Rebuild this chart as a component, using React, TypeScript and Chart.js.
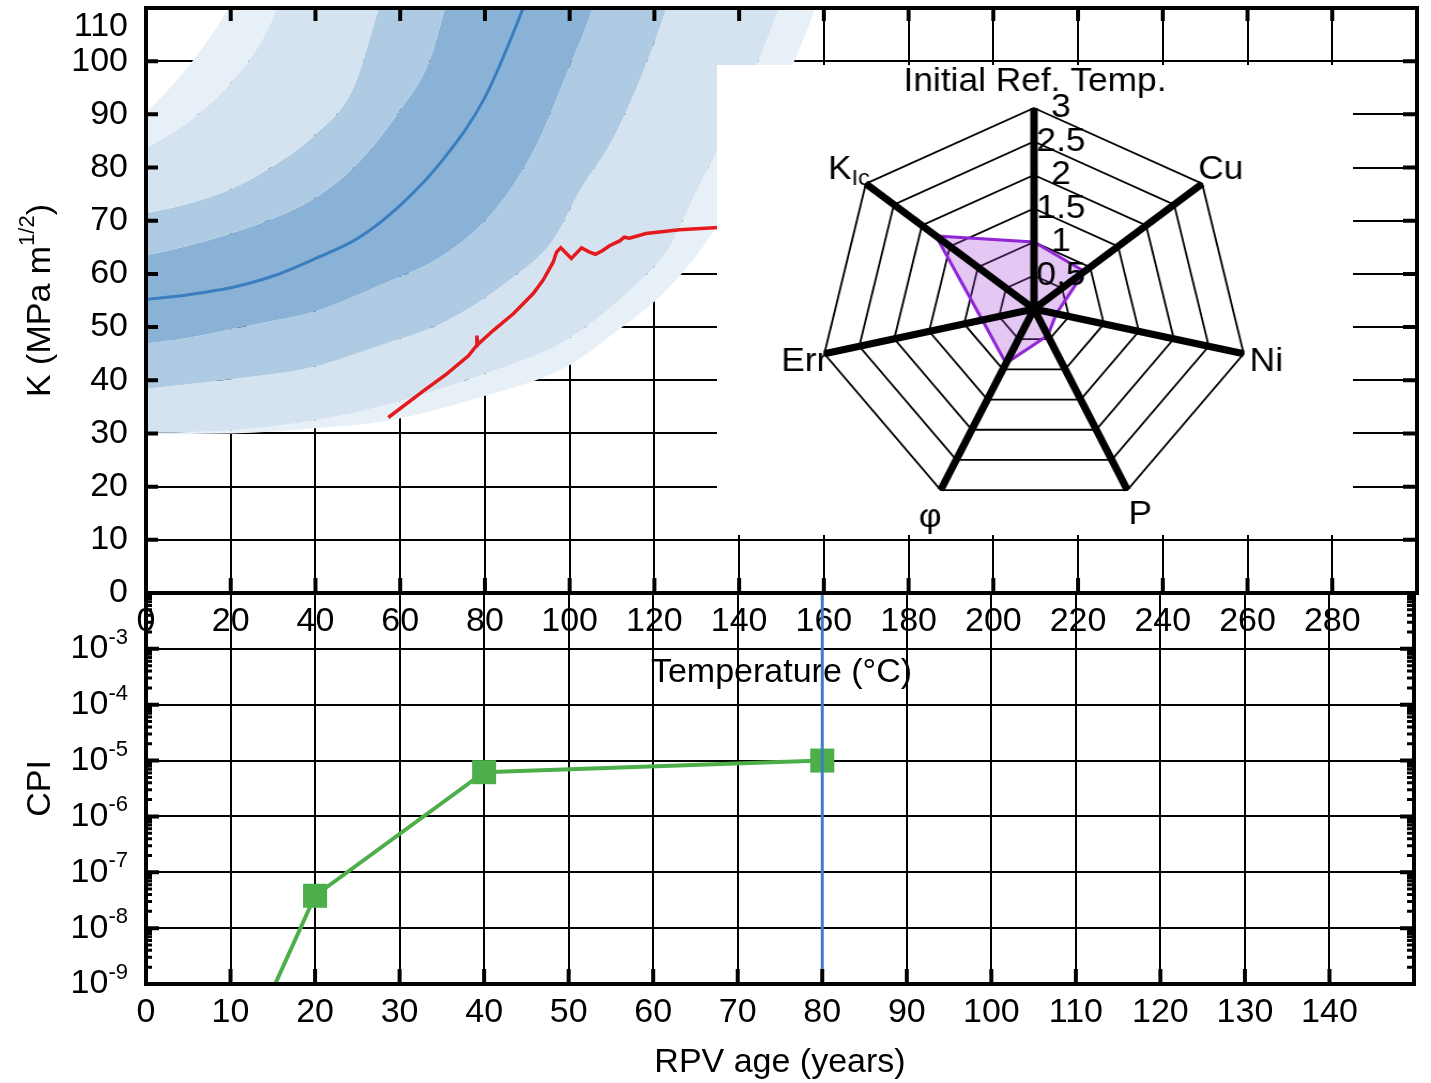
import React, { useEffect, useRef } from "react";
import { Chart, registerables } from "chart.js";

Chart.register(...registerables);

const FONT = '"Liberation Sans", Arial, Helvetica, sans-serif';
const TICK_PX = 34;
const TITLE_PX = 34;
const SUP_PX = 22;
const RADAR_PX = 33;
const RADAR_SX = 1.07;

// ---------------- Top panel: K vs temperature ----------------
const temperatureTicks = [0, 20, 40, 60, 80, 100, 120, 140, 160, 180, 200, 220, 240, 260, 280];
const toughnessTicks = [0, 10, 20, 30, 40, 50, 60, 70, 80, 90, 100, 110];

// [temperature (°C), K (MPa m^1/2)]
const medianCurve = [[0, 55.2], [10, 56.1], [20, 57.4], [30, 59.6], [40, 62.9], [50, 66.7], [60, 72.9], [70, 81.4], [80, 93.2], [90, 112], [95, 123]];
const upperBound1 = [[0, 90.2], [10, 99], [19.5, 110], [25, 119], [40, 140], [320, 400]];
const upperBound2 = [[0, 83.6], [10, 88.6], [20, 95.9], [27, 103.4], [31, 110], [36, 120], [50, 145], [320, 400]];
const upperBound3 = [[0, 71.4], [10, 73.2], [20, 75.9], [30, 80.3], [40, 86.2], [49, 95.1], [55, 110], [60, 122], [320, 400]];
const upperBound4 = [[0, 63.5], [10, 65.3], [20, 67.6], [30, 70.4], [40, 74.3], [50, 80.8], [60, 90.8], [67, 100.2], [70.6, 110], [75, 122], [320, 400]];
const lowerBound4 = [[0, 46.9], [10, 48], [20, 49.6], [30, 51.2], [40, 53], [55, 57.8], [71, 64], [82.8, 72.5], [92, 84], [99.3, 97.7], [105.4, 110], [110, 122], [320, 400]];
const lowerBound3 = [[0, 38.4], [20, 40.2], [38.8, 42.4], [55, 46.5], [71, 51.2], [86.7, 59.4], [96, 66.3], [102.4, 75.7], [110, 85.1], [117.2, 97.8], [122.8, 110], [127, 122], [320, 400]];
const lowerBound2 = [[0, 30.1], [20, 30.6], [40, 32.5], [55, 35], [79, 41], [99, 47.5], [115, 57.5], [123.5, 65], [130, 75.7], [137, 86.5], [144, 99], [149.4, 110], [155, 122], [320, 400]];
const lowerBound1 = [[0, 29.9], [20, 30], [40, 31], [57.2, 32.4], [78.8, 36.8], [99.2, 42.5], [110.2, 48.7], [123.5, 57.5], [134.5, 68.8], [146, 88], [153, 100], [158, 110], [163, 122], [320, 400]];
const measuredCurve = [
  [57.2, 33.0], [65.5, 38.0], [71.0, 41.2], [76.1, 44.6], [78.0, 46.5], [78.1, 48.4], [78.3, 46.7],
  [82.0, 49.4], [86.7, 52.5], [91.4, 56.3], [93.7, 58.8], [96.1, 62.2], [96.9, 64.1], [97.9, 64.9],
  [100.4, 62.9], [102.8, 64.9], [104.7, 64.1], [106.1, 63.7], [107.8, 64.4], [109.4, 65.3], [111.8, 66.2],
  [112.9, 66.9], [114.1, 66.7], [118.0, 67.6], [125.9, 68.3], [134.1, 68.7], [140, 68.9],
];

const VERY_LIGHT = "#e8f0f7";
const LIGHT = "#d5e3f0";
const MEDIUM = "#afcbe3";
const DARK = "#89b2d6";
const bandBoundaries = [upperBound1, upperBound2, upperBound3, upperBound4, lowerBound4, lowerBound3, lowerBound2, lowerBound1];
const bandFills = [VERY_LIGHT, LIGHT, MEDIUM, DARK, MEDIUM, LIGHT, VERY_LIGHT, null];

// ---------------- Radar inset ----------------
const radarAxes = ["Initial Ref. Temp.", "Cu", "Ni", "P", "φ", "Err", "KIc"];
const radarValues = [1.0, 0.9, 0.32, 0.44, 0.9, 0.74, 1.75];
const radarTicks = [0.5, 1, 1.5, 2, 2.5, 3];

// ---------------- Bottom panel: CPI vs age ----------------
const ageTicks = [0, 10, 20, 30, 40, 50, 60, 70, 80, 90, 100, 110, 120, 130, 140];
const cpiExponents = [-3, -4, -5, -6, -7, -8, -9];
const cpiAge = [10, 20, 40, 80];
const cpiValue = [1.7e-11, 3.8e-8, 6.2e-6, 1.0e-5];
const designAge = [80, 80];
const designCpi = [1e-2, 1e-9];

type Seg = { t: string; size: number; dy: number };
function drawRich(ctx: CanvasRenderingContext2D, segs: Seg[], x: number, y: number, align: string, rot = 0) {
  ctx.save();
  ctx.translate(x, y);
  if (rot) ctx.rotate(rot);
  ctx.textBaseline = "middle";
  ctx.textAlign = "left";
  ctx.fillStyle = "#000";
  const widths = segs.map((s) => {
    ctx.font = `${s.size}px ${FONT}`;
    return ctx.measureText(s.t).width;
  });
  const total = widths.reduce((a, b) => a + b, 0);
  let cx = align === "left" ? 0 : align === "center" ? -total / 2 : -total;
  segs.forEach((s, i) => {
    ctx.font = `${s.size}px ${FONT}`;
    ctx.fillText(s.t, cx, s.dy);
    cx += widths[i];
  });
  ctx.restore();
}

const toXY = (arr: number[][]) => arr.map(([x, y]) => ({ x, y }));

const topDecor = {
  id: "topDecor",
  afterDraw(chart: any) {
    const { ctx, chartArea: a, scales } = chart;
    const x = scales.x;
    const y = scales.y;
    ctx.save();
    ctx.strokeStyle = "#000";
    ctx.lineWidth = 4;
    ctx.beginPath();
    temperatureTicks.forEach((t) => {
      const px = x.getPixelForValue(t);
      ctx.moveTo(px, a.bottom);
      ctx.lineTo(px, a.bottom - 15);
      ctx.moveTo(px, a.top);
      ctx.lineTo(px, a.top + 13);
    });
    toughnessTicks.forEach((k) => {
      const py = y.getPixelForValue(k);
      ctx.moveTo(a.left, py);
      ctx.lineTo(a.left + 12, py);
      ctx.moveTo(a.right, py);
      ctx.lineTo(a.right - 14, py);
    });
    ctx.stroke();
    ctx.strokeRect(a.left, a.top, a.right - a.left, a.bottom - a.top);
    ctx.fillStyle = "#000";
    ctx.font = `${TICK_PX}px ${FONT}`;
    ctx.textAlign = "right";
    ctx.textBaseline = "middle";
    ctx.fillText("110", a.left - 18, y.getPixelForValue(110) + 19);
    drawRich(ctx, [{ t: "Temperature (°C)", size: TITLE_PX, dy: 0 }], (a.left + a.right) / 2, 673, "center");
    drawRich(
      ctx,
      [
        { t: "K (MPa m", size: TITLE_PX, dy: 0 },
        { t: "1/2", size: SUP_PX, dy: -13 },
        { t: ")", size: TITLE_PX, dy: 0 },
      ],
      41,
      (a.top + a.bottom) / 2,
      "center",
      -Math.PI / 2
    );
    ctx.restore();
  },
};

const bottomDecor = {
  id: "bottomDecor",
  afterDraw(chart: any) {
    const { ctx, chartArea: a, scales } = chart;
    const x = scales.x;
    const y = scales.y;
    ctx.save();
    ctx.strokeStyle = "#000";
    ctx.lineWidth = 4;
    ctx.beginPath();
    ageTicks.forEach((t) => {
      const px = x.getPixelForValue(t);
      ctx.moveTo(px, a.bottom);
      ctx.lineTo(px, a.bottom - 15);
    });
    cpiExponents.forEach((e) => {
      const py = y.getPixelForValue(Math.pow(10, e));
      ctx.moveTo(a.left, py);
      ctx.lineTo(a.left + 13, py);
      ctx.moveTo(a.right, py);
      ctx.lineTo(a.right - 14, py);
    });
    ctx.stroke();
    ctx.lineWidth = 3;
    ctx.beginPath();
    const decades = [-9, -8, -7, -6, -5, -4, -3];
    decades.forEach((d) => {
      for (let m = 2; m <= 9; m++) {
        const py = y.getPixelForValue(m * Math.pow(10, d));
        ctx.moveTo(a.left, py);
        ctx.lineTo(a.left + 6, py);
        ctx.moveTo(a.right, py);
        ctx.lineTo(a.right - 7, py);
      }
    });
    ctx.stroke();
    ctx.lineWidth = 4;
    ctx.strokeRect(a.left, a.top, a.right - a.left, a.bottom - a.top);
    cpiExponents.forEach((e) => {
      const py = y.getPixelForValue(Math.pow(10, e));
      drawRich(
        ctx,
        [
          { t: "10", size: TICK_PX, dy: 0 },
          { t: String(e), size: SUP_PX, dy: -11 },
        ],
        a.left - 18,
        py,
        "right"
      );
    });
    drawRich(ctx, [{ t: "RPV age (years)", size: TITLE_PX, dy: 0 }], (a.left + a.right) / 2, 1063, "center");
    drawRich(ctx, [{ t: "CPI", size: TITLE_PX, dy: 0 }], 41, (a.top + a.bottom) / 2, "center", -Math.PI / 2);
    ctx.restore();
  },
};

const radarLabelStyle = [
  { dx: 1, dy: -26, align: "center" },
  { dx: -4, dy: -14, align: "left" },
  { dx: 6, dy: 8, align: "left" },
  { dx: 1, dy: 25, align: "left" },
  { dx: 1, dy: 28, align: "right" },
  { dx: 4, dy: 8, align: "right" },
  { dx: 4, dy: -14, align: "right" },
];

const radarDecor = {
  id: "radarDecor",
  afterDatasetsDraw(chart: any) {
    const r = chart.scales.r;
    const ctx = chart.ctx;
    ctx.save();
    ctx.strokeStyle = "#000";
    ctx.lineWidth = 7;
    ctx.lineCap = "butt";
    ctx.beginPath();
    radarAxes.forEach((_, i) => {
      const p = r.getPointPositionForValue(i, r.max);
      ctx.moveTo(r.xCenter, r.yCenter);
      ctx.lineTo(p.x, p.y);
    });
    ctx.stroke();
    radarTicks.forEach((v) => {
      const d = r.getDistanceFromCenterForValue(v);
      drawRich(ctx, [{ t: String(v), size: RADAR_PX, dy: 0 }], r.xCenter + 27 / RADAR_SX, r.yCenter - d, "center");
    });
    radarAxes.forEach((lab, i) => {
      const p = r.getPointPositionForValue(i, r.max);
      const s = radarLabelStyle[i];
      const segs =
        lab === "KIc"
          ? [
              { t: "K", size: RADAR_PX, dy: 0 },
              { t: "Ic", size: SUP_PX, dy: 9 },
            ]
          : [{ t: lab, size: RADAR_PX, dy: 0 }];
      drawRich(ctx, segs, p.x + s.dx / RADAR_SX, p.y + s.dy, s.align);
    });
    ctx.restore();
  },
};

function topConfig(): any {
  const lines = [
    {
      label: "measured",
      data: toXY(measuredCurve),
      borderColor: "#e41a1c",
      borderWidth: 3.5,
      pointRadius: 0,
      fill: false,
      order: 0,
    },
    {
      label: "median",
      data: toXY(medianCurve),
      borderColor: "#3b7ec0",
      borderWidth: 3,
      pointRadius: 0,
      fill: false,
      cubicInterpolationMode: "monotone",
      order: 0,
    },
  ];
  const bands = bandBoundaries.map((b, i) => ({
    label: "band" + i,
    data: toXY(b),
    borderColor: "rgba(0,0,0,0)",
    borderWidth: 0,
    pointRadius: 0,
    cubicInterpolationMode: "monotone",
    fill: bandFills[i] ? "+1" : false,
    backgroundColor: bandFills[i] || "rgba(0,0,0,0)",
    order: 1,
  }));
  return {
    type: "line",
    data: { datasets: [...lines, ...bands] },
    options: {
      responsive: false,
      animation: false,
      devicePixelRatio: 1,
      layout: { padding: { left: 0, right: 14, top: 8, bottom: 0 } },
      plugins: { legend: { display: false }, tooltip: { enabled: false } },
      scales: {
        x: {
          type: "linear",
          min: 0,
          max: 300,
          afterBuildTicks: (s: any) => {
            s.ticks = temperatureTicks.map((v) => ({ value: v }));
          },
          afterFit: (s: any) => {
            s.height = 107;
            s.paddingLeft = 0;
            s.paddingRight = 0;
          },
          ticks: {
            autoSkip: false,
            maxRotation: 0,
            padding: 8,
            color: "#000",
            font: { size: TICK_PX, family: FONT },
            callback: (v: any) => String(v),
          },
          grid: { color: "#000", lineWidth: 2, drawTicks: false },
          border: { display: false },
        },
        y: {
          type: "linear",
          min: 0,
          max: 110,
          afterBuildTicks: (s: any) => {
            s.ticks = toughnessTicks.map((v) => ({ value: v }));
          },
          afterFit: (s: any) => {
            s.width = 146;
            s.paddingTop = 0;
            s.paddingBottom = 0;
          },
          ticks: {
            padding: 18,
            color: "#000",
            font: { size: TICK_PX, family: FONT },
            callback: (v: any) => (v === 110 ? "" : String(v)),
          },
          grid: { color: "#000", lineWidth: 2, drawTicks: false },
          border: { display: false },
        },
      },
    },
    plugins: [topDecor],
  };
}

function radarConfig(): any {
  return {
    type: "radar",
    data: {
      labels: radarAxes,
      datasets: [
        {
          data: radarValues,
          borderColor: "#9126d6",
          borderWidth: 3,
          backgroundColor: "rgba(165, 70, 215, 0.3)",
          pointRadius: 0,
          fill: true,
        },
      ],
    },
    options: {
      responsive: false,
      animation: false,
      devicePixelRatio: 1,
      layout: { padding: { left: 116, right: 118, top: 43, bottom: 25 } },
      plugins: { legend: { display: false }, tooltip: { enabled: false } },
      scales: {
        r: {
          min: 0,
          max: 3,
          beginAtZero: true,
          ticks: { stepSize: 0.5, display: false },
          grid: { color: "#000", lineWidth: 1.8 },
          angleLines: { display: false },
          pointLabels: { display: false },
        },
      },
    },
    plugins: [radarDecor],
  };
}

function bottomConfig(): any {
  return {
    type: "line",
    data: {
      datasets: [
        {
          label: "design life",
          data: designAge.map((x, i) => ({ x, y: designCpi[i] })),
          borderColor: "#3e7fbf",
          borderWidth: 3,
          pointRadius: 0,
          fill: false,
          order: 0,
        },
        {
          label: "CPI",
          data: cpiAge.map((x, i) => ({ x, y: cpiValue[i] })),
          borderColor: "#4daf4a",
          backgroundColor: "#4daf4a",
          borderWidth: 4,
          pointStyle: "rect",
          pointRadius: [0, 17, 17, 17],
          pointBorderWidth: 0,
          fill: false,
          order: 1,
        },
      ],
    },
    options: {
      responsive: false,
      animation: false,
      devicePixelRatio: 1,
      layout: { padding: { left: 0, right: 14, top: 593, bottom: 0 } },
      plugins: { legend: { display: false }, tooltip: { enabled: false } },
      scales: {
        x: {
          type: "linear",
          min: 0,
          max: 150,
          afterBuildTicks: (s: any) => {
            s.ticks = ageTicks.map((v) => ({ value: v }));
          },
          afterFit: (s: any) => {
            s.height = 99;
            s.paddingLeft = 0;
            s.paddingRight = 0;
          },
          ticks: {
            autoSkip: false,
            maxRotation: 0,
            padding: 8,
            color: "#000",
            font: { size: TICK_PX, family: FONT },
            callback: (v: any) => String(v),
          },
          grid: { color: "#000", lineWidth: 2, drawTicks: false },
          border: { display: false },
        },
        y: {
          type: "logarithmic",
          min: 1e-9,
          max: 1e-2,
          afterBuildTicks: (s: any) => {
            s.ticks = [...cpiExponents, -2].map((e) => ({ value: Math.pow(10, e) }));
          },
          afterFit: (s: any) => {
            s.width = 146;
            s.paddingTop = 0;
            s.paddingBottom = 0;
          },
          ticks: { callback: () => "", font: { size: TICK_PX, family: FONT } },
          grid: { color: "#000", lineWidth: 2, drawTicks: false },
          border: { display: false },
        },
      },
    },
    plugins: [bottomDecor],
  };
}

export default function App() {
  const topRef = useRef<HTMLCanvasElement>(null);
  const radarRef = useRef<HTMLCanvasElement>(null);
  const bottomRef = useRef<HTMLCanvasElement>(null);

  useEffect(() => {
    Chart.defaults.font.family = FONT;
    Chart.defaults.color = "#000";
    const charts = [
      new Chart(topRef.current as HTMLCanvasElement, topConfig()),
      new Chart(radarRef.current as HTMLCanvasElement, radarConfig()),
      new Chart(bottomRef.current as HTMLCanvasElement, bottomConfig()),
    ];
    return () => charts.forEach((c) => c.destroy());
  }, []);

  return (
    <div style={{ position: "absolute", left: 0, top: 0, width: 1431, height: 1083, background: "#fff", overflow: "hidden" }}>
      <canvas ref={topRef} width={1431} height={700} style={{ position: "absolute", left: 0, top: 0 }} />
      <div style={{ position: "absolute", left: 717, top: 65, width: 636, height: 470, background: "#fff" }}>
        <canvas
          ref={radarRef}
          width={636}
          height={470}
          style={{ position: "absolute", left: 0, top: 0, transform: `scaleX(${RADAR_SX})`, transformOrigin: "317px 0px" }}
        />
      </div>
      <canvas ref={bottomRef} width={1431} height={1083} style={{ position: "absolute", left: 0, top: 0 }} />
    </div>
  );
}
